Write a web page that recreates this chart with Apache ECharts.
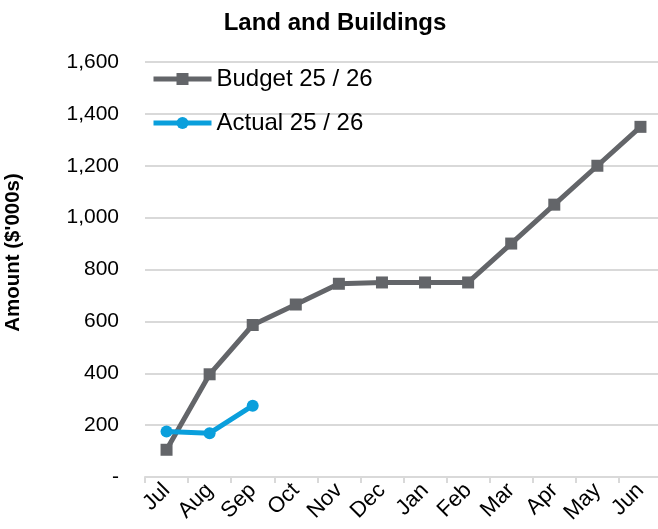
<!DOCTYPE html>
<html>
<head>
<meta charset="utf-8">
<script src="https://cdn.jsdelivr.net/npm/echarts@6/dist/echarts.min.js"></script>
<style>html,body{margin:0;padding:0;background:#fff}#c{width:658px;height:529px}</style>
</head>
<body>
<div id="c"></div>
<script>
var months = ['Jul','Aug','Sep','Oct','Nov','Dec','Jan','Feb','Mar','Apr','May','Jun'];
var budget = [105, 396, 586, 665, 745, 750, 750, 750, 900, 1050, 1200, 1350];
var actual = [175, 169, 275];
var yTicks = [0, 200, 400, 600, 800, 1000, 1200, 1400, 1600];

var chart = echarts.init(document.getElementById('c'), null, {renderer: 'canvas'});
var ff = 'Arial, "Liberation Sans", sans-serif';
chart.setOption({
  animation: false,
  textStyle: {fontFamily: ff},
  title: {
    text: 'Land and Buildings', left: 330, top: 6, textAlign: 'center',
    textStyle: {fontFamily: ff, fontWeight: 'bold', fontSize: 24, color: '#000'}
  },
  legend: {
    orient: 'vertical', left: 146, top: 62, itemGap: 20,
    itemWidth: 58, itemHeight: 15,
    textStyle: {fontFamily: ff, fontSize: 24, color: '#000'},
    data: [
      {name: 'Budget 25 / 26', lineStyle: {width: 5}},
      {name: 'Actual 25 / 26', lineStyle: {width: 5}}
    ]
  },
  grid: {left: 145, top: 62, width: 517, height: 415, outerBoundsMode: 'none', containLabel: false},
  xAxis: {
    type: 'category', data: months, boundaryGap: true,
    axisLine: {lineStyle: {color: '#d9d9d9', width: 2}},
    axisTick: {show: true, length: 6, lineStyle: {color: '#d9d9d9', width: 2}},
    axisLabel: {rotate: 45, fontSize: 22, color: '#000', margin: 10, fontFamily: ff}
  },
  yAxis: {
    type: 'value', min: yTicks[0], max: yTicks[yTicks.length - 1], interval: 200,
    name: "Amount ($'000s)", nameLocation: 'middle', nameGap: 121,
    nameTextStyle: {fontFamily: ff, fontWeight: 'bold', fontSize: 20.5, color: '#000', padding: [0, 0, 0, 34]},
    axisLine: {show: false}, axisTick: {show: false},
    splitLine: {lineStyle: {color: '#d9d9d9', width: 2}},
    axisLabel: {
      fontSize: 21, color: '#000', margin: 26, fontFamily: ff,
      formatter: function (v) { return v === 0 ? '-' : v.toLocaleString('en-US'); }
    }
  },
  series: [
    {
      name: 'Budget 25 / 26', type: 'line', data: budget,
      symbol: 'rect', symbolSize: 12,
      lineStyle: {color: '#636569', width: 5},
      itemStyle: {color: '#636569'}
    },
    {
      name: 'Actual 25 / 26', type: 'line', data: actual,
      symbol: 'circle', symbolSize: 12,
      lineStyle: {color: '#0a9fdc', width: 5},
      itemStyle: {color: '#0a9fdc'}
    }
  ]
});
</script>
</body>
</html>
